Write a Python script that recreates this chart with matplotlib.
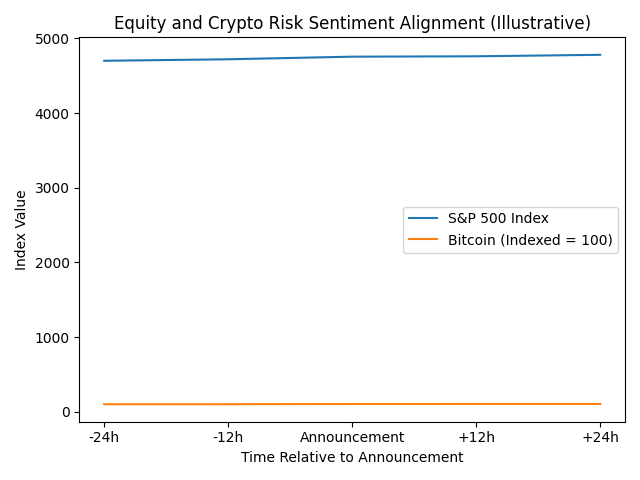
import matplotlib
matplotlib.use("Agg")
import matplotlib.pyplot as plt

time_labels = ["-24h", "-12h", "Announcement", "+12h", "+24h"]
sp500 = [4700, 4720, 4755, 4760, 4780]
bitcoin = [100, 101, 103, 104, 104]

fig, ax = plt.subplots(figsize=(6.4, 4.8), dpi=100)
ax.plot(time_labels, sp500, label="S&P 500 Index")
ax.plot(time_labels, bitcoin, label="Bitcoin (Indexed = 100)")
ax.set_title("Equity and Crypto Risk Sentiment Alignment (Illustrative)")
ax.set_xlabel("Time Relative to Announcement")
ax.set_ylabel("Index Value")
ax.legend()
fig.tight_layout()
fig.savefig("out.png")
